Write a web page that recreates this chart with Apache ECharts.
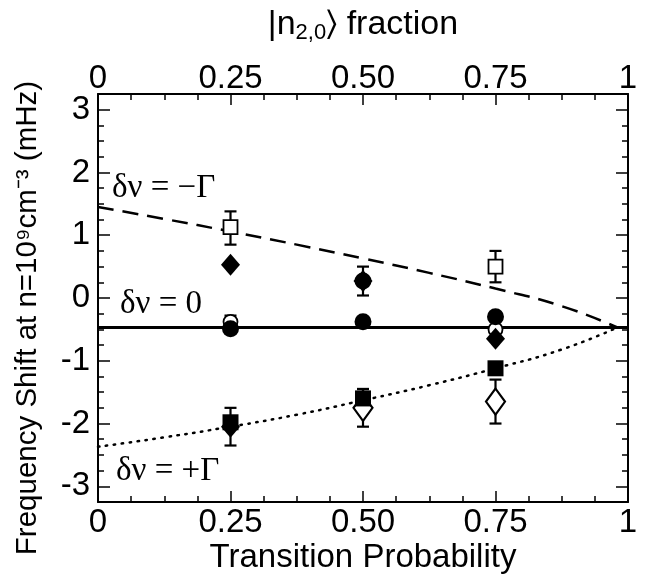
<!DOCTYPE html>
<html>
<head>
<meta charset="utf-8">
<script src="https://cdn.jsdelivr.net/npm/echarts@6/dist/echarts.min.js"></script>
<style>html,body{margin:0;padding:0;background:#fff}#c{width:650px;height:574px}</style>
</head>
<body>
<div id="c"></div>
<script>
// ---- data ----
const xTickLabels = {0: '0', 0.25: '0.25', 0.5: '0.50', 0.75: '0.75', 1: '1'};
const yTickValues = [-3, -2, -1, 0, 1, 2, 3];

// theory curves
const minusGammaX = [0, 0.125, 0.25, 0.375, 0.5, 0.625, 0.75, 0.875, 0.98];
const minusGammaY = [1.45, 1.26, 1.06, 0.85, 0.63, 0.40, 0.15, -0.13, -0.47];
const zeroX = [0, 1];
const zeroY = [-0.47, -0.47];
const plusGammaX = [0, 0.125, 0.25, 0.375, 0.5, 0.625, 0.75, 0.875, 0.98];
const plusGammaY = [-2.37, -2.22, -2.05, -1.86, -1.63, -1.39, -1.12, -0.82, -0.47];

// measured points
const openSquareX = [0.25, 0.75];
const openSquareY = [1.13, 0.5];
const filledDiamondX = [0.25, 0.5, 0.75, 0.25];
const filledDiamondY = [0.53, 0.27, -0.65, -2.05];
const filledCircleX = [0.25, 0.5, 0.75, 0.5];
const filledCircleY = [-0.49, -0.38, -0.3, 0.27];
const openCircleX = [0.25, 0.75];
const openCircleY = [-0.38, -0.5];
const filledSquareX = [0.25, 0.5, 0.75];
const filledSquareY = [-1.98, -1.6, -1.12];
const openDiamondX = [0.5, 0.75];
const openDiamondY = [-1.75, -1.65];

// error bars: x, low, high
const errX = [0.25, 0.5, 0.75, 0.25, 0.25, 0.5, 0.5, 0.75];
const errLow = [0.85, 0.04, 0.25, -0.49, -2.35, -1.6, -2.05, -2.0];
const errHigh = [1.38, 0.5, 0.75, -0.28, -1.75, -1.45, -1.45, -1.3];

const zip = (xs, ys) => xs.map((x, i) => [x, ys[i]]);

const FONT = '"Liberation Sans", Arial, Helvetica, sans-serif';
const SERIF = '"Liberation Serif", "DejaVu Serif", "Times New Roman", serif';
const black = '#000';

const chart = echarts.init(document.getElementById('c'), null, {renderer: 'canvas'});

const xBase = {
  type: 'value', min: 0, max: 1, interval: 0.25,
  axisLine: {show: true, onZero: false, lineStyle: {color: black, width: 2}},
  axisTick: {show: true, inside: true, length: 11, lineStyle: {color: black, width: 1.5}},
  minorTick: {show: true, splitNumber: 4, length: 6, lineStyle: {color: black, width: 1.5}},
  splitLine: {show: false},
  axisLabel: {fontSize: 33, fontFamily: FONT, color: black, margin: 4,
    formatter: v => xTickLabels[v] !== undefined ? xTickLabels[v] : ''}
};

const yShort = (pos) => ({
  type: 'value', min: -3.25, max: 3.25, interval: 0.25, position: pos,
  axisLine: {show: true, onZero: false, lineStyle: {color: black, width: 2}},
  axisTick: {show: true, inside: true, length: 6, lineStyle: {color: black, width: 1.5}},
  splitLine: {show: false},
  axisLabel: {show: pos === 'left', fontSize: 33, fontFamily: FONT, color: black, margin: 8,
    formatter: v => Number.isInteger(Math.round(v * 1000) / 1000) ? String(Math.round(v)) : ''}
});
const yLong = (pos) => ({
  type: 'value', min: -3.25, max: 3.25, position: pos,
  axisLine: {show: false, onZero: false},
  axisTick: {show: true, inside: true, length: 12, customValues: yTickValues, lineStyle: {color: black, width: 1.5}},
  splitLine: {show: false},
  axisLabel: {show: false}
});

const leftY = yShort('left');
leftY.name = 'Frequency Shift at n=10\u2079cm\u207B\u00B3 (mHz)';
leftY.nameLocation = 'middle';
leftY.nameGap = 55;
leftY.nameMoveOverlap = false;
leftY.nameTextStyle = {fontSize: 29.5, fontFamily: FONT, color: black, padding: [0, 40, 0, 0]};

const bottomX = Object.assign({}, xBase, {
  position: 'bottom',
  name: 'Transition Probability', nameLocation: 'middle', nameGap: 39, nameMoveOverlap: false,
  nameTextStyle: {fontSize: 33, fontFamily: FONT, color: black}
});
const topX = Object.assign({}, xBase, {
  position: 'top',
  axisLabel: Object.assign({}, xBase.axisLabel, {margin: -1}),
  name: '|n{sub|2,0}\u232A fraction', nameLocation: 'middle', nameGap: 50, nameMoveOverlap: false,
  nameTextStyle: {fontSize: 34, fontFamily: FONT, color: black,
    rich: {sub: {fontSize: 22, fontFamily: FONT, color: black, padding: [16, 0, 0, 0]}}}
});

const marker = (name, xs, ys, symbol, size, filled, bw) => ({
  name, type: 'scatter', xAxisIndex: 0, yAxisIndex: 0,
  data: zip(xs, ys), symbol, symbolSize: size, z: filled ? 5 : 4,
  itemStyle: {color: filled ? black : '#fff', borderColor: black, borderWidth: bw || 0, opacity: 1},
  emphasis: {disabled: true}
});

chart.setOption({
  animation: false,
  backgroundColor: '#fff',
  grid: {left: 98, right: 22, top: 94, bottom: 72, containLabel: false, outerBoundsMode: 'none'},
  xAxis: [bottomX, topX],
  yAxis: [leftY, yLong('left'), yShort('right'), yLong('right')],
  series: [
    {type: 'line', data: zip(minusGammaX, minusGammaY), smooth: true, symbol: 'none',
      lineStyle: {color: black, width: 2.5, type: [16, 9]}, z: 2},
    {type: 'line', data: zip(zeroX, zeroY), symbol: 'none',
      lineStyle: {color: black, width: 3}, z: 2},
    {type: 'line', data: zip(plusGammaX, plusGammaY), smooth: true, symbol: 'none',
      lineStyle: {color: black, width: 2.5, type: [1.5, 6.5], cap: 'round'}, z: 2},
    {type: 'custom', xAxisIndex: 0, yAxisIndex: 0, z: 3,
      data: errX.map((x, i) => [x, errLow[i], errHigh[i]]),
      encode: {x: 0, y: [1, 2]},
      renderItem: (params, api) => {
        const lo = api.coord([api.value(0), api.value(1)]);
        const hi = api.coord([api.value(0), api.value(2)]);
        const w = 6;
        const st = {stroke: black, lineWidth: 2.2};
        return {type: 'group', children: [
          {type: 'line', shape: {x1: lo[0], y1: lo[1], x2: hi[0], y2: hi[1]}, style: st},
          {type: 'line', shape: {x1: lo[0] - w, y1: lo[1], x2: lo[0] + w, y2: lo[1]}, style: st},
          {type: 'line', shape: {x1: hi[0] - w, y1: hi[1], x2: hi[0] + w, y2: hi[1]}, style: st}
        ]};
      }},
    marker('openSquare', openSquareX, openSquareY, 'rect', 14, false, 1.8),
    marker('openCircle', openCircleX, openCircleY, 'circle', 14, false, 1.8),
    marker('openDiamond', openDiamondX, openDiamondY, 'diamond', [19, 26], false, 2.2),
    marker('filledCircle', filledCircleX, filledCircleY, 'circle', 17, true),
    marker('filledDiamond', filledDiamondX, filledDiamondY, 'diamond', [19, 22], true),
    marker('filledSquare', filledSquareX, filledSquareY, 'rect', 16, true)
  ],
  graphic: [
    {type: 'text', left: 112, top: 172, style: {text: '\u03B4\u03BD = \u2212\u0393', font: '33px ' + SERIF, fill: black}},
    {type: 'text', left: 120, top: 288, style: {text: '\u03B4\u03BD = 0', font: '33px ' + SERIF, fill: black}},
    {type: 'text', left: 116, top: 455, style: {text: '\u03B4\u03BD = +\u0393', font: '33px ' + SERIF, fill: black}}
  ]
});
</script>
</body>
</html>
